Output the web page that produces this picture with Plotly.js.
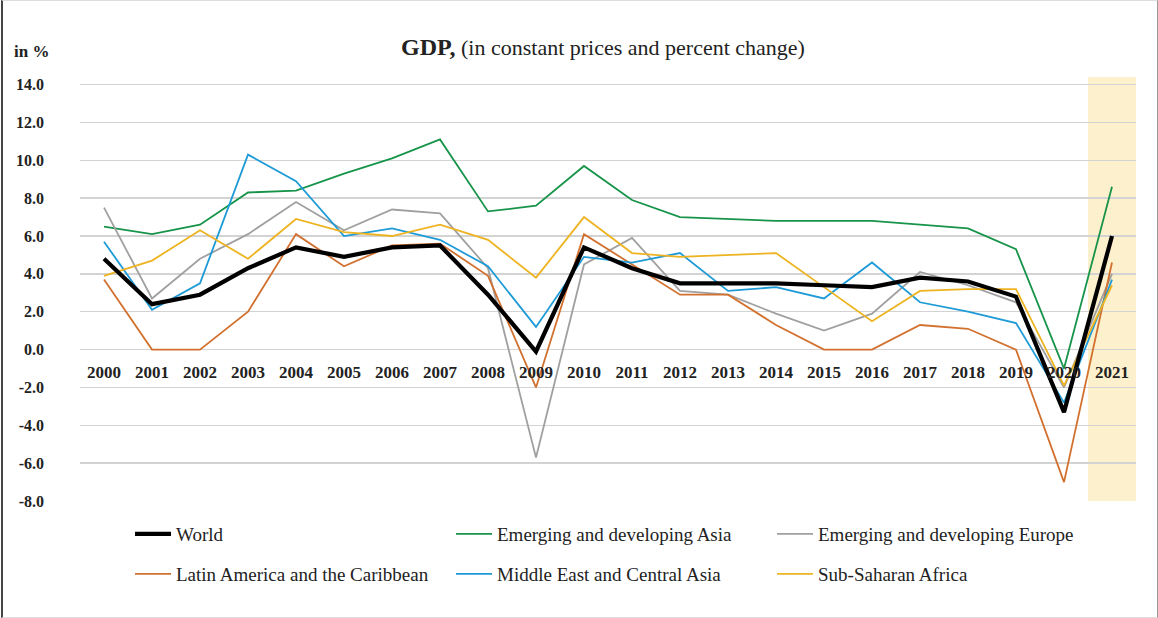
<!DOCTYPE html>
<html>
<head>
<meta charset="utf-8">
<script src="https://cdn.plot.ly/plotly-3.0.1.min.js"></script>
<style>
  html, body { margin: 0; padding: 0; background: #fff; }
  #wrap { position: relative; width: 1158px; height: 618px; }
  #chart { width: 1158px; height: 618px; }
  #frame { position: absolute; left: 1px; top: 0; width: 1154px; height: 616px;
           border-left: 2px solid #444; border-right: 1.5px solid #999;
           border-top: 1px solid #ddd; border-bottom: 1px solid #ddd; pointer-events: none; }
</style>
</head>
<body>
<div id="wrap"><div id="chart"></div><div id="frame"></div></div>
<script>
const years = ['2000','2001','2002','2003','2004','2005','2006','2007','2008','2009','2010',
               '2011','2012','2013','2014','2015','2016','2017','2018','2019','2020','2021'];
const world  = [4.8,2.4,2.9,4.3,5.4,4.9,5.4,5.5,2.9,-0.1,5.4,4.3,3.5,3.5,3.5,3.4,3.3,3.8,3.6,2.8,-3.3,6.0];
const asia   = [6.5,6.1,6.6,8.3,8.4,9.3,10.1,11.1,7.3,7.6,9.7,7.9,7.0,6.9,6.8,6.8,6.8,6.6,6.4,5.3,-1.0,8.6];
const europe = [7.5,2.7,4.8,6.1,7.8,6.3,7.4,7.2,4.3,-5.7,4.5,5.9,3.1,2.9,1.9,1.0,1.9,4.1,3.4,2.5,-2.0,4.0];
const latam  = [3.7,0.0,0.0,2.0,6.1,4.4,5.5,5.6,3.9,-2.0,6.1,4.5,2.9,2.9,1.3,0.0,0.0,1.3,1.1,0.0,-7.0,4.6];
const meca   = [5.7,2.1,3.5,10.3,8.9,6.0,6.4,5.8,4.4,1.2,4.9,4.6,5.1,3.1,3.3,2.7,4.6,2.5,2.0,1.4,-2.8,3.7];
const ssa    = [3.9,4.7,6.3,4.8,6.9,6.2,6.0,6.6,5.8,3.8,7.0,5.1,4.9,5.0,5.1,3.3,1.5,3.1,3.2,3.2,-1.9,3.4];
const yTicks = [-8,-6,-4,-2,0,2,4,6,8,10,12,14];
const yTickText = yTicks.map(v => v.toFixed(1));
const names = ['World','Emerging and developing Asia','Emerging and developing Europe',
               'Latin America and the Caribbean','Middle East and Central Asia','Sub-Saharan Africa'];
const highlightYear = '2021';

const FONT = '"Liberation Serif", "DejaVu Serif", serif';
const yMin = -8.05, yMax = 14.4;
const mT = 77, mB = 116, H = 618;
const plotH = H - mT - mB;

function tr(y, name, color, width, legend, rank) {
  return { type: 'scatter', mode: 'lines', x: years, y: y, name: name,
           line: { color: color, width: width }, legend: legend, legendrank: rank,
           hoverinfo: 'skip' };
}
const data = [
  tr(asia,   names[1], '#17944A', 1.8, 'legend', 2),
  tr(europe, names[2], '#A0A0A0', 1.8, 'legend', 3),
  tr(latam,  names[3], '#D2712F', 1.8, 'legend2', 1),
  tr(meca,   names[4], '#1E9BD7', 1.8, 'legend2', 2),
  tr(ssa,    names[5], '#EDB320', 1.8, 'legend2', 3),
  tr(world,  names[0], '#000000', 4.2, 'legend', 1)
];

const hIdx = years.indexOf(highlightYear);
const legendCommon = {
  orientation: 'h', xref: 'container', yref: 'container', xanchor: 'left', yanchor: 'middle',
  x: 130/1158, entrywidth: 270, entrywidthmode: 'pixels', itemwidth: 36,
  font: { family: FONT, size: 19, color: '#222' }, bgcolor: 'rgba(0,0,0,0)', traceorder: 'normal'
};
const layout = {
  width: 1158, height: H,
  margin: { l: 80, r: 22, t: mT, b: mB },
  paper_bgcolor: '#fff', plot_bgcolor: '#fff',
  font: { family: FONT, color: '#222' },
  title: {
    text: '<b><span style="font-size:24px">GDP,</span></b> (in constant prices and percent change)',
    font: { family: FONT, size: 22, color: '#222' },
    xref: 'container', yref: 'container', x: 603/1158, xanchor: 'center', y: 1 - 47/618, yanchor: 'middle'
  },
  showlegend: true,
  legend: Object.assign({}, legendCommon, { y: 1 - 534/618 }),
  legend2: Object.assign({}, legendCommon, { y: 1 - 574/618 }),
  xaxis: {
    type: 'category', range: [-0.5, years.length - 0.5], anchor: 'free',
    position: (0 - yMin) / (yMax - yMin),
    showgrid: false, zeroline: false, showline: false, ticks: '',
    tickfont: { family: FONT, size: 17, color: '#222', weight: 'bold' },
    ticklabelstandoff: 10, fixedrange: true
  },
  yaxis: {
    range: [yMin, yMax], tickmode: 'array', tickvals: yTicks, ticktext: yTickText,
    showgrid: true, gridcolor: '#D3D3D3', gridwidth: 1.5, zeroline: false, showline: false, ticks: '',
    tickfont: { family: FONT, size: 16, color: '#222', weight: 'bold' },
    ticklabelstandoff: 35, fixedrange: true
  },
  shapes: [{
    type: 'rect', xref: 'x', yref: 'y', x0: hIdx - 0.5, x1: hIdx + 0.5, y0: -8, y1: 14.4,
    fillcolor: '#FDF0CC', line: { width: 0 }, layer: 'below'
  }],
  annotations: [{
    text: '<b>in %</b>', xref: 'paper', yref: 'paper', x: (12 - 80) / 1056, y: (H - mB - 52) / plotH,
    xanchor: 'left', yanchor: 'middle', showarrow: false,
    font: { family: FONT, size: 17, color: '#222' }
  }]
};
Plotly.newPlot('chart', data, layout, { staticPlot: true, displayModeBar: false });
</script>
</body>
</html>
